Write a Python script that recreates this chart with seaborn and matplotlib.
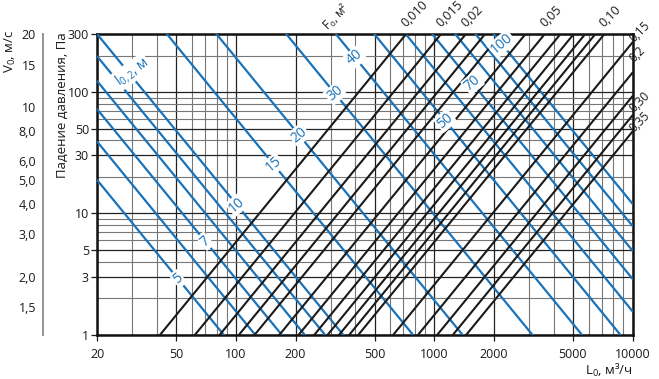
import numpy as np
import pandas as pd
import seaborn as sns
import matplotlib.pyplot as plt
from matplotlib.ticker import FixedLocator, NullFormatter, FixedFormatter

# --- данные номограммы ---
F_areas = [0.010, 0.015, 0.02, 0.025, 0.03, 0.04, 0.05, 0.06, 0.07, 0.08, 0.09,
           0.10, 0.15, 0.2, 0.25, 0.30, 0.35]
F_top_labels = {0.010: '0,010', 0.015: '0,015', 0.02: '0,02', 0.05: '0,05', 0.10: '0,10'}
F_side_labels = {0.15: '0,15', 0.2: '0,2', 0.30: '0,30', 0.35: '0,35'}
throws = [5, 6, 7, 8, 9, 10, 15, 20, 30, 40, 50, 60, 70, 80, 90, 100]
# подпись дальнобойности -> расход, у которого стоит подпись
throw_label_flow = {5: 51, 7: 70, 10: 101, 15: 155, 20: 208, 30: 316,
                    40: 399, 50: 1136, 70: 1560, 100: 2193}
x_ticks = [20, 50, 100, 200, 500, 1000, 2000, 5000, 10000]
x_minor = [30, 40, 60, 70, 80, 90, 300, 400, 600, 700, 800, 900,
           3000, 4000, 6000, 7000, 8000, 9000]
y_ticks = [1, 3, 5, 10, 30, 50, 100, 300]
y_minor = [2, 4, 6, 7, 8, 9, 20, 40, 60, 70, 80, 90, 200]
v_ticks = [1.5, 2, 3, 4, 5, 6, 7, 8, 9, 10, 15, 20]
v_labels = ['1,5', '2,0', '3,0', '4,0', '5,0', '6,0', '', '8,0', '', '10', '15', '20']

ZETA = 0.75          # dp = ZETA * v^2
M_COEF, V_X = 6.0, 0.2
L_range = [20, 10000]
dp_range = [1, 300]


def dp_area(L, F):
    v = L / (3600.0 * F)
    return ZETA * v ** 2


def dp_throw(L, l):
    v = 3600.0 * V_X ** 2 * l ** 2 / (M_COEF ** 2 * L)
    return ZETA * v ** 2


blue = '#1a72b8'
dark = '#1a1a1a'

sns.set_style('white')
plt.rcParams['font.family'] = ['Open Sans', 'DejaVu Sans']
plt.rcParams['mathtext.fontset'] = 'custom'
plt.rcParams['mathtext.rm'] = 'Open Sans'

fig = plt.figure(figsize=(6.59, 3.79), dpi=100)
ax = fig.add_axes([97.3 / 659, 1 - 334.5 / 379, (632.5 - 97.3) / 659, (334.5 - 34.3) / 379])
ax.set_xscale('log')
ax.set_yscale('log')

rows_f = []
for F in F_areas:
    for L in L_range:
        rows_f.append({'L': L, 'dp': dp_area(L, F), 'line': f'F{F}'})
rows_l = []
for l in throws:
    for L in L_range:
        rows_l.append({'L': L, 'dp': dp_throw(L, l), 'line': f'l{l}'})
df_f = pd.DataFrame(rows_f)
df_l = pd.DataFrame(rows_l)

sns.lineplot(data=df_l, x='L', y='dp', units='line', estimator=None, color=blue,
             lw=1.6, ax=ax, legend=False, zorder=3)
sns.lineplot(data=df_f, x='L', y='dp', units='line', estimator=None, color=dark,
             lw=1.5, ax=ax, legend=False, zorder=3)

ax.set_xlim(*L_range)
ax.set_ylim(*dp_range)
ax.xaxis.set_major_locator(FixedLocator(x_ticks))
ax.xaxis.set_major_formatter(FixedFormatter([str(t) for t in x_ticks]))
ax.xaxis.set_minor_locator(FixedLocator(x_minor))
ax.xaxis.set_minor_formatter(NullFormatter())
ax.yaxis.set_major_locator(FixedLocator(y_ticks))
ax.yaxis.set_major_formatter(FixedFormatter([str(t) for t in y_ticks]))
ax.yaxis.set_minor_locator(FixedLocator(y_minor))
ax.yaxis.set_minor_formatter(NullFormatter())
ax.grid(which='major', color='#222222', lw=0.9, zorder=1)
ax.grid(which='minor', color='#777777', lw=0.8, zorder=1)
ax.set_axisbelow(True)
ax.tick_params(which='major', direction='out', length=4, width=0.9, labelsize=9,
               colors='#1a1a1a', bottom=True, left=True, pad=2)
ax.tick_params(which='minor', length=0)
ax.tick_params(axis='x', pad=6)
for sp in ax.spines.values():
    sp.set_visible(True)
    sp.set_color('#111111')
    sp.set_linewidth(1.8)
ax.set_xlabel('')
ax.set_ylabel('')

# подписи дальнобойности
for l, Lpos in throw_label_flow.items():
    ax.text(Lpos, dp_throw(Lpos, l), str(l), rotation=40, rotation_mode='anchor',
            ha='center', va='center', color=blue, fontsize=10, zorder=6,
            bbox=dict(fc='white', ec='none', pad=0.8))
ax.text(29.8, 147, r'l$_{\mathregular{0,2}}$, м', rotation=36, rotation_mode='anchor',
        ha='center', va='center', color=blue, fontsize=10, zorder=6,
        bbox=dict(fc='white', ec='none', pad=0.8))

# подписи площади
for F, s in F_top_labels.items():
    Ltop = 3600.0 * F * np.sqrt(dp_range[1] / ZETA)
    ax.annotate(s, (Ltop, dp_range[1]), xytext=(1.5, 3), textcoords='offset points',
                rotation=45, rotation_mode='anchor', ha='left', va='bottom',
                fontsize=9, color='#1a1a1a', annotation_clip=False)
side_shift = {0.15: -1.5, 0.2: 5.5, 0.30: 0.5, 0.35: -2.5}
for F, s in F_side_labels.items():
    ax.annotate(s, (L_range[1], dp_area(L_range[1], F)), xytext=(2.5, side_shift[F]),
                textcoords='offset points', rotation=45, rotation_mode='anchor',
                ha='left', va='bottom', fontsize=8.5, color='#1a1a1a',
                annotation_clip=False)
ax.annotate(r'F$_{\mathregular{0}}$, м²', (300, dp_range[1]),
            xytext=(0, 0.5), textcoords='offset points', rotation=45,
            rotation_mode='anchor', ha='left', va='bottom', fontsize=8.5,
            color='#1a1a1a', annotation_clip=False)

# шкала скорости
axv = fig.add_axes([43 / 659, 1 - 334.5 / 379, 0.001, (334.5 - 34.3) / 379])
axv.set_yscale('log')
axv.set_ylim(np.sqrt(dp_range[0] / ZETA), np.sqrt(dp_range[1] / ZETA))
axv.yaxis.set_major_locator(FixedLocator(v_ticks))
axv.yaxis.set_major_formatter(FixedFormatter(v_labels))
axv.yaxis.set_minor_locator(FixedLocator([]))
axv.set_xticks([])
axv.patch.set_visible(False)
for name, sp in axv.spines.items():
    sp.set_visible(name == 'left')
axv.spines['left'].set_color('#8a8a8a')
axv.spines['left'].set_linewidth(1.3)
axv.tick_params(axis='y', direction='out', length=4, width=0.9, color='#555555',
                labelsize=9, labelcolor='#1a1a1a', pad=1)

fig.text(62 / 659, 1 - 32 / 379, 'Падение давления, Па', rotation=90, ha='center',
         va='top', fontsize=9.5, color='#1a1a1a')
fig.text(10 / 659, 1 - 30 / 379, r'V$_{\mathregular{0}}$, м/с', rotation=90, ha='center',
         va='top', fontsize=9.5, color='#1a1a1a')
fig.text(633 / 659, 1 - 375 / 379, r'L$_{\mathregular{0}}$, м³/ч', ha='right',
         va='baseline', fontsize=9.5, color='#1a1a1a')

fig.savefig('out.png', dpi=100)
